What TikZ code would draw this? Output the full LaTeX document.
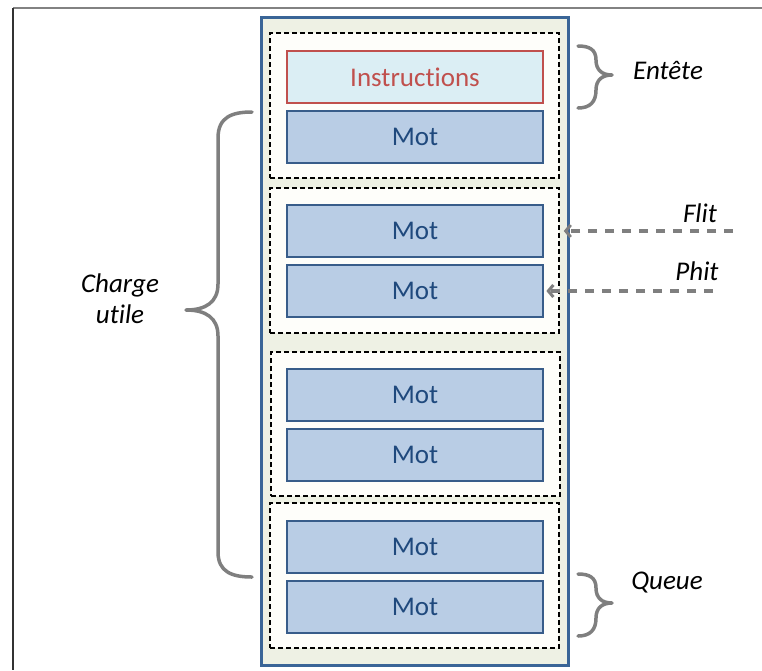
\documentclass[tikz,border=0pt]{standalone}
\usepackage{fontspec}
\setmainfont{Carlito}[Ligatures=NoCommon]
\usetikzlibrary{arrows.meta}
\definecolor{contfill}{RGB}{238,241,228}
\definecolor{contdraw}{RGB}{58,101,151}
\definecolor{grpfill}{RGB}{254,254,250}
\definecolor{motfill}{RGB}{185,205,229}
\definecolor{motdraw}{RGB}{56,93,138}
\definecolor{mottext}{RGB}{31,73,125}
\definecolor{insfill}{RGB}{219,238,244}
\definecolor{insred}{RGB}{192,80,77}
\definecolor{bracegray}{RGB}{127,127,127}
\definecolor{frametop}{RGB}{130,130,130}
\definecolor{frameleft}{RGB}{50,50,50}
\tikzset{
  txt/.style={font=\fontsize{27}{32}\selectfont},
  lbl/.style={font=\fontsize{27}{32}\selectfont\itshape, text=black, inner sep=0pt},
  container/.style={draw=contdraw, fill=contfill, line width=3pt, minimum width=307pt, minimum height=648pt, inner sep=0pt},
  group/.style={draw=black, fill=grpfill, dash pattern=on 5pt off 3pt, line width=1.5pt, minimum width=289pt, minimum height=145pt, inner sep=0pt},
  motbox/.style={txt, draw=motdraw, fill=motfill, text=mottext, line width=2.8pt, minimum width=256pt, minimum height=52pt, inner sep=0pt},
  insbox/.style={txt, draw=insred, fill=insfill, text=insred, line width=2.8pt, minimum width=256pt, minimum height=52pt, inner sep=0pt},
  bracepath/.style={draw=bracegray, line width=3.5pt, line cap=round, line join=round},
  darrow/.style={draw=bracegray, line width=3.5pt, dash pattern=on 9pt off 8pt, -{Straight Barb[length=5pt,width=12pt,line width=3pt]}}
}
\begin{document}
\begin{tikzpicture}[x=1pt,y=-1pt]
\useasboundingbox (0,0) rectangle (762,670);
% frame
\draw[draw=frametop, line width=1.5pt] (13,8) -- (762,8);
\draw[draw=frameleft, line width=2pt] (13,8) -- (13,670);
% container
\node[container] (cont) at (414.5,341) {};
% groups
\node[group] (g1) at (414.5,105.5) {};
\node[group] (g2) at (414.5,260.5) {};
\node[group, minimum height=144pt] (g3) at (415.5,424) {};
\node[group] (g4) at (414.5,575.5) {};
% boxes
\node[insbox] (ins) at (415,77) {Instructions};
\node[motbox] (m1) at (415,137) {Mot};
\node[motbox] (m2) at (415,231) {Mot};
\node[motbox] (m3) at (415,291) {Mot};
\node[motbox] (m4) at (415,395) {Mot};
\node[motbox] (m5) at (415,455) {Mot};
\node[motbox] (m6) at (415,547) {Mot};
\node[motbox] (m7) at (415,607) {Mot};
% labels
\node[lbl] (entete) at (668,70) {Entête};
\node[lbl] (flit) at (700,213) {Flit};
\node[lbl] (phit) at (697,271) {Phit};
\node[lbl] (queue) at (667,583) {Queue};
\node[lbl, align=center] (charge) at (120,299) {Charge\\[-1pt]utile};
% braces
\path[bracepath] (578,46) .. controls (590,46) and (596,50) .. (596,60)
  .. controls (596,70) and (602,75) .. (612,75)
  .. controls (602,75) and (596,80) .. (596,90)
  .. controls (596,102) and (590,108) .. (578,108);
\path[bracepath] (578,574) .. controls (590,574) and (596,578) .. (596,588)
  .. controls (596,598) and (602,603) .. (612,603)
  .. controls (602,603) and (596,608) .. (596,618)
  .. controls (596,630) and (590,636) .. (578,636);
\path[bracepath] (252,112) .. controls (232,112) and (218,117) .. (218,138)
  -- (218,284) .. controls (218,302) and (206,310) .. (186,310)
  .. controls (206,310) and (218,318) .. (218,336)
  -- (218,552) .. controls (218,572) and (232,577) .. (252,577);
% arrows
\coordinate (flitS) at (733,231);
\coordinate (phitS) at (713,291);
\draw[darrow] (flitS) -- ([xshift=4pt]g2.east |- flitS);
\draw[darrow] (phitS) -- ([xshift=2pt]m3.east);
\end{tikzpicture}
\end{document}
